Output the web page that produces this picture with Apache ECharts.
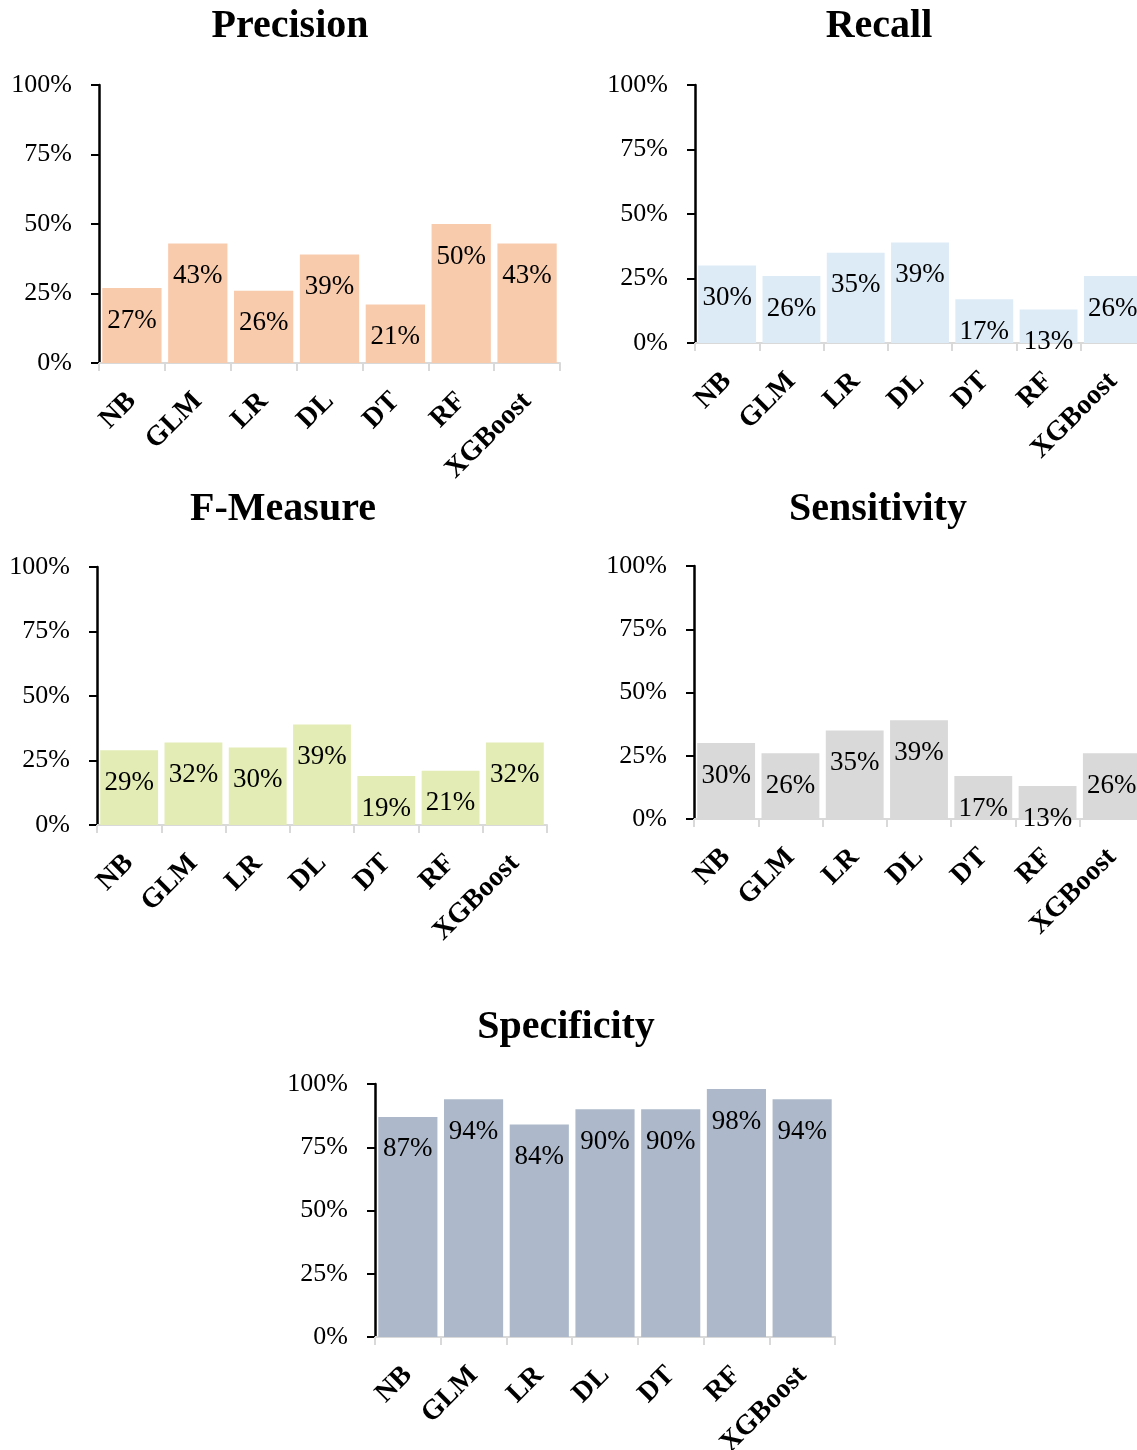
<!DOCTYPE html>
<html>
<head>
<meta charset="utf-8">
<script src="https://cdn.jsdelivr.net/npm/echarts@6/dist/echarts.min.js"></script>
<style>
html,body{margin:0;padding:0;background:#fff;}
#chart{width:1137px;height:1450px;}
</style>
</head>
<body>
<div id="chart"></div>
<script>
const categories = ['NB', 'GLM', 'LR', 'DL', 'DT', 'RF', 'XGBoost'];
const precision = [27, 43, 26, 39, 21, 50, 43];
const recall = [30, 26, 35, 39, 17, 13, 26];
const fMeasure = [29, 32, 30, 39, 19, 21, 32];
const sensitivity = [30, 26, 35, 39, 17, 13, 26];
const specificity = [87, 94, 84, 90, 90, 98, 94];
const panelTitles = ['Precision', 'Recall', 'F-Measure', 'Sensitivity', 'Specificity'];
const yTicks = [0, 25, 50, 75, 100];

const FONT = "'Liberation Serif', 'Times New Roman', serif";
const panels = [
  { data: precision,   color: '#F8CBAD', grid: { left: 99,  top: 85,   width: 461, height: 278 }, tx: 290, ty: 7 },
  { data: recall,      color: '#DDEBF7', grid: { left: 695, top: 85,   width: 450, height: 258 }, tx: 879, ty: 7 },
  { data: fMeasure,    color: '#E3ECB4', grid: { left: 97,  top: 567,  width: 450, height: 258 }, tx: 283, ty: 490 },
  { data: sensitivity, color: '#D9D9D9', grid: { left: 694, top: 566,  width: 450, height: 253 }, tx: 878, ty: 490 },
  { data: specificity, color: '#ADB9CA', grid: { left: 375, top: 1084, width: 460, height: 253 }, tx: 566, ty: 1008 }
];

const option = {
  animation: false,
  backgroundColor: '#ffffff',
  textStyle: { fontFamily: FONT },
  title: panels.map((p, i) => ({
    text: panelTitles[i], left: p.tx, top: p.ty, textAlign: 'center', padding: 0,
    textStyle: { fontFamily: FONT, fontWeight: 'bold', fontSize: 40, color: '#000' }
  })),
  grid: panels.map(p => Object.assign({ containLabel: false, outerBoundsMode: 'none' }, p.grid)),
  xAxis: panels.map((p, i) => ({
    type: 'category', gridIndex: i, data: categories,
    axisLine: { show: true, lineStyle: { color: '#D9D9D9', width: 2 } },
    axisTick: { show: true, length: 8, lineStyle: { color: '#D9D9D9', width: 2 } },
    axisLabel: { rotate: 45, margin: 34, interval: 0, color: '#000', fontFamily: FONT, fontWeight: 'bold', fontSize: 28 }
  })),
  yAxis: panels.map((p, i) => ({
    type: 'value', gridIndex: i, min: 0, max: 100, interval: 25,
    splitLine: { show: false },
    axisLine: { show: true, lineStyle: { color: '#000', width: 2.5 } },
    axisTick: { show: true, length: 8, lineStyle: { color: '#000', width: 2 } },
    axisLabel: { margin: 27, color: '#000', fontFamily: FONT, fontSize: 26, formatter: '{value}%' }
  })),
  series: panels.map((p, i) => ({
    type: 'bar', xAxisIndex: i, yAxisIndex: i, data: p.data,
    barCategoryGap: '10%',
    itemStyle: { color: p.color },
    label: { show: true, position: 'insideTop', distance: 19, color: '#000', fontFamily: FONT, fontSize: 27, formatter: '{c}%' }
  }))
};

const chart = echarts.init(document.getElementById('chart'), null, { renderer: 'canvas' });
chart.setOption(option);
</script>
</body>
</html>
